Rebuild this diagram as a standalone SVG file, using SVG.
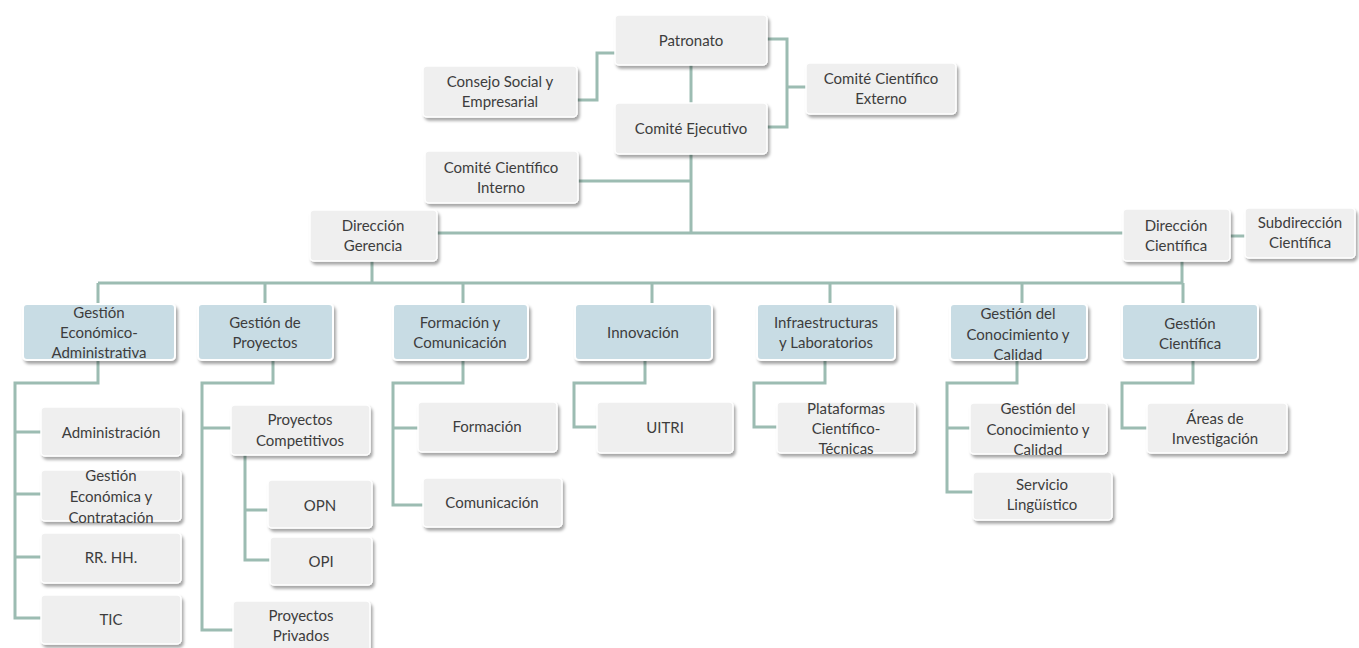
<svg xmlns="http://www.w3.org/2000/svg" width="1359" height="648" viewBox="0 0 1359 648">
<defs>
<filter id="sh" x="-10%" y="-20%" width="125%" height="150%">
<feDropShadow dx="2" dy="3" stdDeviation="1.8" flood-color="#000" flood-opacity="0.35"/>
</filter>
<style>
.b{fill:#efefef;stroke:#ffffff;stroke-width:1.5;filter:url(#sh)}
.m{fill:#c8dce4;stroke:#ffffff;stroke-width:2;filter:url(#sh)}
text{font-family:Lato,"Open Sans","Liberation Sans",sans-serif;font-size:15px;fill:#3d3d3d;text-anchor:middle;dominant-baseline:central}
#connectors path{fill:none;stroke:#9cbcb2;stroke-width:3}
</style>
</defs>
<rect width="1359" height="648" fill="#ffffff"/>
<g id="connectors">
<path d="M691 65V103"/>
<path d="M577 100H597V53H615"/>
<path d="M767 39H787V127H767M787 87H806"/>
<path d="M691 154V233M578 181H691"/>
<path d="M437 233H1123"/>
<path d="M1230 236H1245"/>
<path d="M372 261V283M1182 261V283M98 283H1183"/>
<path d="M98 283V304M265 283V304M463 283V304M652 283V304M830 283V304M1022 283V304M1183 283V304"/>
<path d="M98 360V383H15V618H41M15 432H41M15 494H41M15 557H41"/>
<path d="M273 360V383H202V630H233M202 428H231"/>
<path d="M245 455V560H270M245 510H268"/>
<path d="M463 360V383H393V505H423M393 428H418"/>
<path d="M645 360V383H574V427H597"/>
<path d="M825 360V383H754V427H777"/>
<path d="M1017 360V383H947V492H973M947 428H970"/>
<path d="M1193 360V383H1122V428H1147"/>
</g>
<g id="patronato"><rect class="b" x="615" y="15" width="152" height="50" rx="4"/><text x="691" y="40">Patronato</text></g>
<g id="consejo-social"><rect class="b" x="423" y="66" width="154" height="51" rx="4"/><text x="500" y="81">Consejo Social y</text><text x="500" y="101">Empresarial</text></g>
<g id="comite-externo"><rect class="b" x="806" y="63" width="150" height="51" rx="4"/><text x="881" y="78">Comité Científico</text><text x="881" y="98">Externo</text></g>
<g id="comite-ejecutivo"><rect class="b" x="615" y="103" width="152" height="51" rx="4"/><text x="691" y="128">Comité Ejecutivo</text></g>
<g id="comite-interno"><rect class="b" x="425" y="151" width="153" height="52" rx="4"/><text x="501" y="167">Comité Científico</text><text x="501" y="187">Interno</text></g>
<g id="direccion-gerencia"><rect class="b" x="310" y="210" width="127" height="51" rx="4"/><text x="373" y="225">Dirección</text><text x="373" y="245">Gerencia</text></g>
<g id="direccion-cientifica"><rect class="b" x="1123" y="209" width="107" height="52" rx="4"/><text x="1176" y="225">Dirección</text><text x="1176" y="245">Científica</text></g>
<g id="subdireccion"><rect class="b" x="1245" y="208" width="110" height="50" rx="4"/><text x="1300" y="222">Subdirección</text><text x="1300" y="242">Científica</text></g>
<g id="gea"><rect class="m" x="23" y="304" width="152" height="56" rx="4"/><text x="99" y="312">Gestión</text><text x="99" y="332">Económico-</text><text x="99" y="352">Administrativa</text></g>
<g id="gdp"><rect class="m" x="198" y="304" width="135" height="56" rx="4"/><text x="265" y="322">Gestión de</text><text x="265" y="342">Proyectos</text></g>
<g id="fyc"><rect class="m" x="393" y="304" width="135" height="56" rx="4"/><text x="460" y="322">Formación y</text><text x="460" y="342">Comunicación</text></g>
<g id="innovacion"><rect class="m" x="575" y="304" width="137" height="56" rx="4"/><text x="643" y="332">Innovación</text></g>
<g id="infra"><rect class="m" x="757" y="304" width="138" height="56" rx="4"/><text x="826" y="322">Infraestructuras</text><text x="826" y="342">y Laboratorios</text></g>
<g id="gdc"><rect class="m" x="950" y="304" width="137" height="56" rx="4"/><text x="1018" y="313">Gestión del</text><text x="1018" y="334">Conocimiento y</text><text x="1018" y="354">Calidad</text></g>
<g id="gcient"><rect class="m" x="1122" y="304" width="136" height="56" rx="4"/><text x="1190" y="323">Gestión</text><text x="1190" y="343">Científica</text></g>
<g id="administracion"><rect class="b" x="41" y="407" width="140" height="49" rx="4"/><text x="111" y="432">Administración</text></g>
<g id="gestion-economica"><rect class="b" x="41" y="470" width="140" height="51" rx="4"/><text x="111" y="475">Gestión</text><text x="111" y="496">Económica y</text><text x="111" y="517">Contratación</text></g>
<g id="rrhh"><rect class="b" x="41" y="533" width="140" height="50" rx="4"/><text x="111" y="557">RR. HH.</text></g>
<g id="tic"><rect class="b" x="41" y="595" width="140" height="49" rx="4"/><text x="111" y="619">TIC</text></g>
<g id="competitivos"><rect class="b" x="231" y="405" width="139" height="50" rx="4"/><text x="300" y="419">Proyectos</text><text x="300" y="440">Competitivos</text></g>
<g id="opn"><rect class="b" x="268" y="480" width="104" height="48" rx="4"/><text x="320" y="505">OPN</text></g>
<g id="opi"><rect class="b" x="270" y="537" width="102" height="48" rx="4"/><text x="321" y="561">OPI</text></g>
<g id="privados"><rect class="b" x="233" y="601" width="137" height="52" rx="4"/><text x="301" y="615">Proyectos</text><text x="301" y="635">Privados</text></g>
<g id="formacion"><rect class="b" x="418" y="402" width="139" height="50" rx="4"/><text x="487" y="426">Formación</text></g>
<g id="comunicacion"><rect class="b" x="423" y="478" width="139" height="49" rx="4"/><text x="492" y="502">Comunicación</text></g>
<g id="uitri"><rect class="b" x="597" y="402" width="136" height="51" rx="4"/><text x="665" y="427">UITRI</text></g>
<g id="plataformas"><rect class="b" x="777" y="402" width="138" height="51" rx="4"/><text x="846" y="408">Plataformas</text><text x="846" y="428">Científico-</text><text x="846" y="448">Técnicas</text></g>
<g id="gdc-child"><rect class="b" x="970" y="403" width="137" height="51" rx="4"/><text x="1038" y="408">Gestión del</text><text x="1038" y="429">Conocimiento y</text><text x="1038" y="449">Calidad</text></g>
<g id="servicio"><rect class="b" x="973" y="472" width="139" height="48" rx="4"/><text x="1042" y="484">Servicio</text><text x="1042" y="504">Lingüístico</text></g>
<g id="areas"><rect class="b" x="1147" y="403" width="140" height="50" rx="4"/><text x="1215" y="418">Áreas de</text><text x="1215" y="438">Investigación</text></g>
</svg>
